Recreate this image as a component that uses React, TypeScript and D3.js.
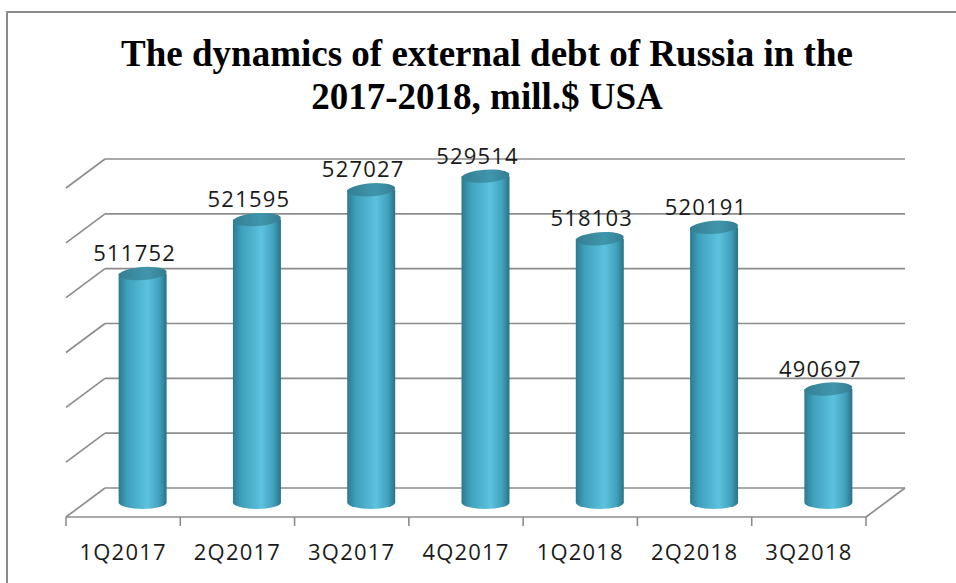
import React from "react";
import * as d3 from "d3";

const categories = ["1Q2017", "2Q2017", "3Q2017", "4Q2017", "1Q2018", "2Q2018", "3Q2018"];
const debtValues = [511752, 521595, 527027, 529514, 518103, 520191, 490697];
const axisDomain = [470000, 530000];
const titleLines = ["The dynamics of external debt of Russia in the", "2017-2018, mill.$ USA"];

const W = 956;
const H = 583;
const frontLeft = 66;
const frontRight = 866;
const frontY = 517;
const depthDX = 39;
const depthDY = -29;
const wallHeight = 329;

export default function App() {
  const x = d3.scaleBand<string>().domain(categories).range([frontLeft, frontRight]).paddingInner(0).paddingOuter(0);
  const h = d3.scaleLinear().domain(axisDomain).range([0, wallHeight]);
  const ticks = h.ticks(6);
  const backY = frontY + depthDY;
  const backLeft = frontLeft + depthDX;
  const backRight = frontRight + depthDX;
  const gridColor = "#8c8c8c";
  const r = 24;
  const ry = 6.5;
  const midDX = depthDX / 2;
  const midDY = depthDY / 2;
  const tickXs = categories.map((c) => x(c)!).concat([frontRight]);
  const labelFont = "'Open Sans', 'Liberation Sans', sans-serif";

  return (
    <svg width={W} height={H} style={{ position: "absolute", left: 0, top: 0 }}>
      <defs>
        <linearGradient id="cylBody" x1="0" x2="1" y1="0" y2="0">
          <stop offset="0" stopColor="#2a7b91" />
          <stop offset="0.18" stopColor="#3fa0bb" />
          <stop offset="0.6" stopColor="#5cc2de" />
          <stop offset="0.85" stopColor="#41a1bc" />
          <stop offset="1" stopColor="#2a7185" />
        </linearGradient>
        <linearGradient id="cylTop" x1="0" x2="1" y1="0" y2="0">
          <stop offset="0" stopColor="#347f94" />
          <stop offset="0.6" stopColor="#4096ad" />
          <stop offset="1" stopColor="#347d91" />
        </linearGradient>
      </defs>
      <rect x={0} y={0} width={W} height={H} fill="#fff" />
      <rect x={7} y={12} width={W + 20} height={H + 20} fill="#fff" stroke="#8a8a8a" strokeWidth={2} />

      {titleLines.map((t, i) => (
        <text
          key={t}
          x={487}
          y={66 + i * 43}
          textAnchor="middle"
          fontFamily="'Liberation Serif', 'Times New Roman', serif"
          fontWeight="bold"
          fontSize={37}
          fill="#000"
        >
          {t}
        </text>
      ))}

      {ticks.map((t) => {
        const yb = backY - h(t);
        return (
          <g key={t} stroke={gridColor} strokeWidth={1.6} fill="none">
            <line x1={backLeft} x2={backRight} y1={yb} y2={yb} />
            <line x1={frontLeft} y1={yb - depthDY} x2={backLeft} y2={yb} />
          </g>
        );
      })}
      <g stroke={gridColor} strokeWidth={1.6} fill="none">
        <line x1={frontLeft} x2={frontRight} y1={frontY} y2={frontY} />
        <line x1={frontRight} y1={frontY} x2={backRight} y2={backY} />
        {tickXs.map((tx, i) => (
          <line key={i} x1={tx} x2={tx} y1={frontY} y2={frontY + 9} />
        ))}
      </g>

      {categories.map((c, i) => {
        const v = debtValues[i];
        const cx = x(c)! + x.bandwidth() / 2 + midDX;
        const yBase = frontY + midDY;
        const yTop = yBase - h(v);
        const body = `M${cx - r},${yTop} L${cx - r},${yBase} A${r},${ry} 0 0 0 ${cx + r},${yBase} L${cx + r},${yTop} Z`;
        return (
          <g key={c}>
            <path d={body} fill="url(#cylBody)" />
            <ellipse cx={cx} cy={yTop} rx={r} ry={ry} fill="url(#cylTop)" transform={`rotate(-4 ${cx} ${yTop})`} />
            <text
              x={cx - 8}
              y={yTop - ry - 6}
              textAnchor="middle"
              fontFamily={labelFont}
              fontSize={22}
              letterSpacing={1.2}
              fill="#1a1a1a"
            >
              {v}
            </text>
          </g>
        );
      })}

      {categories.map((c) => (
        <text
          key={c}
          x={x(c)! + x.bandwidth() / 2}
          y={560}
          textAnchor="middle"
          fontFamily={labelFont}
          fontSize={22}
          letterSpacing={1.2}
          fill="#1a1a1a"
        >
          {c}
        </text>
      ))}
    </svg>
  );
}
